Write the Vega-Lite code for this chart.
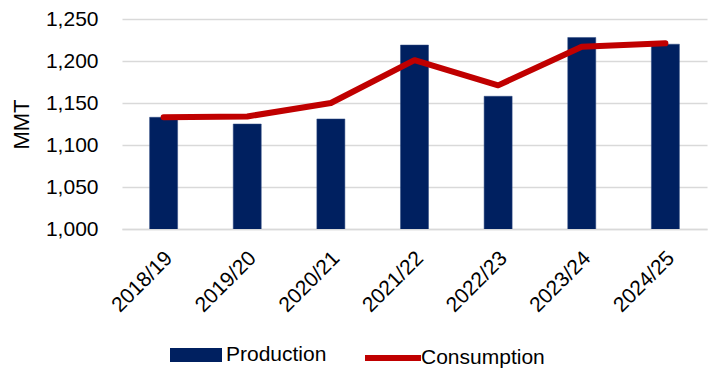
{
  "$schema": "https://vega.github.io/schema/vega-lite/v6.json",
  "width": 585,
  "height": 210,
  "autosize": {"type": "none"},
  "padding": {"left": 122, "top": 19, "right": 16, "bottom": 148},
  "background": "white",
  "config": {
    "font": "Liberation Sans",
    "view": {"stroke": null},
    "axis": {"labelFont": "Liberation Sans", "titleFont": "Liberation Sans", "labelColor": "#000000", "titleColor": "#000000"},
    "legend": {"labelFont": "Liberation Sans", "labelColor": "#000000"}
  },
  "data": {
    "values": [
      {"year": "2018/19", "production": 1133, "consumption": 1133},
      {"year": "2019/20", "production": 1125, "consumption": 1134},
      {"year": "2020/21", "production": 1131, "consumption": 1150},
      {"year": "2021/22", "production": 1219, "consumption": 1201},
      {"year": "2022/23", "production": 1158, "consumption": 1171},
      {"year": "2023/24", "production": 1228, "consumption": 1217},
      {"year": "2024/25", "production": 1220, "consumption": 1221}
    ]
  },
  "encoding": {
    "x": {
      "field": "year",
      "type": "ordinal",
      "sort": null,
      "title": null,
      "scale": {"paddingInner": 0.665, "paddingOuter": 0.33},
      "axis": {
        "labelAngle": -45,
        "labelFontSize": 21,
        "labelPadding": 18,
        "labelOffset": -2,
        "ticks": false,
        "domainColor": "#d9d9d9",
        "domainWidth": 1.5
      }
    }
  },
  "layer": [
    {
      "mark": {"type": "bar", "stroke": "#2f4a80", "strokeWidth": 0.5, "clip": true},
      "encoding": {
        "y": {
          "field": "production",
          "type": "quantitative",
          "scale": {"domain": [1000, 1250], "zero": false, "nice": false},
          "title": "MMT",
          "axis": {
            "values": [1000, 1050, 1100, 1150, 1200, 1250],
            "format": ",d",
            "labelFontSize": 21,
            "titleFontSize": 22,
            "titleFontWeight": "normal",
            "titlePadding": 12,
            "labelPadding": 24,
            "ticks": false,
            "domain": false,
            "gridColor": "#d9d9d9",
            "gridWidth": 1.5
          }
        },
        "fill": {
          "datum": "Production",
          "scale": {"domain": ["Production"], "range": ["#002060"]},
          "legend": {
            "title": null,
            "orient": "none",
            "legendX": 48,
            "legendY": 310,
            "symbolType": "M-1,-0.27H1V0.27H-1Z",
            "symbolSize": 2704,
            "symbolStrokeWidth": 0,
            "labelFontSize": 21,
            "labelOffset": 4
          }
        }
      }
    },
    {
      "mark": {"type": "line", "strokeWidth": 6, "strokeCap": "round", "strokeJoin": "round"},
      "encoding": {
        "y": {"field": "consumption", "type": "quantitative"},
        "stroke": {
          "datum": "Consumption",
          "scale": {"domain": ["Consumption"], "range": ["#C00000"]},
          "legend": {
            "title": null,
            "orient": "none",
            "legendX": 240,
            "legendY": 308,
            "symbolType": "stroke",
            "symbolSize": 3136,
            "symbolStrokeWidth": 6,
            "labelFontSize": 21,
            "labelOffset": -3
          }
        }
      }
    }
  ]
}
